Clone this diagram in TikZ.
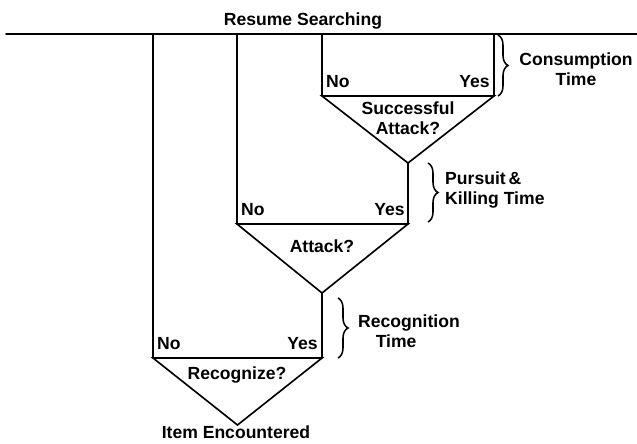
\documentclass[tikz,border=0pt]{standalone}
\usepackage{fontspec}
\setmainfont{Liberation Sans}
\usepackage{tkz-euclide}
\usetikzlibrary{decorations.pathreplacing}

\begin{document}
\begin{tikzpicture}[x=0.03cm, y=-0.03cm,
        linea/.style={line width=1.4pt, line join=miter},
        rotulo/.style={font=\bfseries\fontsize{15}{17}\selectfont, inner sep=0pt},
        llave/.style={line width=1.3pt, decorate, decoration={brace, amplitude=0.3cm}}]
        \useasboundingbox (0,0) rectangle (637,443);

        % Paso 1: Define la línea de búsqueda
        \tkzDefPoint(6,34){S}
        \tkzDefPoint(637,34){R}

        % Paso 2: Define los puntos de arriba de cada rama
        \tkzDefPoint(153,34){A}
        \tkzDefPoint(237,34){B}
        \tkzDefPoint(322,34){C}
        \tkzDefPoint(494,34){D}

        % Paso 3: Define los vértices de los triángulos
        \tkzDefPoint(322,96){C1}
        \tkzDefPoint(494,96){D1}
        \tkzDefPoint(408,163){E}
        \tkzDefPoint(237,224){B1}
        \tkzDefPoint(408,224){F}
        \tkzDefPoint(322,293){G}
        \tkzDefPoint(153,358){A1}
        \tkzDefPoint(322,358){H}
        \tkzDefPoint(237.5,425){I}

        % Paso 4: Dibuja las líneas y los triángulos
        \tkzDrawSegments[linea](S,R A,A1 B,B1 C,C1 D,D1 E,F G,H)
        \tkzDrawPolygon[linea](C1,D1,E)
        \tkzDrawPolygon[linea](B1,F,G)
        \tkzDrawPolygon[linea](A1,H,I)

        % Paso 5: Etiqueta las ramas
        \node[rotulo, anchor=base] (busca) at (303,25) {Resume Searching};
        \node[rotulo, anchor=base west] (no1) at ([shift={(4,-9)}]C1) {No};
        \node[rotulo, anchor=base east] (si1) at ([shift={(-4,-9)}]D1) {Yes};
        \node[rotulo, anchor=base west] (no2) at ([shift={(4,-9)}]B1) {No};
        \node[rotulo, anchor=base east] (si2) at ([shift={(-3,-9)}]F) {Yes};
        \node[rotulo, anchor=base west] (no3) at ([shift={(4,-9)}]A1) {No};
        \node[rotulo, anchor=base east] (si3) at ([shift={(-4,-9)}]H) {Yes};

        % Paso 6: Rotula las preguntas
        \node[rotulo, align=center, anchor=north] (exito) at (408,102) {Successful\\Attack?};
        \node[rotulo, anchor=base] (ataque) at (322,252) {Attack?};
        \node[rotulo, anchor=base] (reconoce) at (237,379) {Recognize?};
        \node[rotulo, anchor=base] (item) at (236,438) {Item Encountered};

        % Paso 7: Dibuja las llaves de los tiempos
        \draw[llave] ([shift={(4,1)}]D) -- ([shift={(4,0)}]D1);
        \draw[llave] ([shift={(20,0)}]E) -- ([shift={(20,-2)}]F);
        \draw[llave] ([shift={(16,5)}]G) -- ([shift={(16,0)}]H);

        % Paso 8: Agrega los tiempos
        \node[rotulo, align=center, anchor=north] (consumo) at (576,53) {Consumption\\Time};
        \node[rotulo, align=left, anchor=north west] (caza) at (445,172) {Pursuit\,\&\\Killing Time};
        \node[rotulo, align=left, anchor=north west] (tiempo) at (358,315) {Recognition\\\hspace*{1em}Time};
\end{tikzpicture}
\end{document}
